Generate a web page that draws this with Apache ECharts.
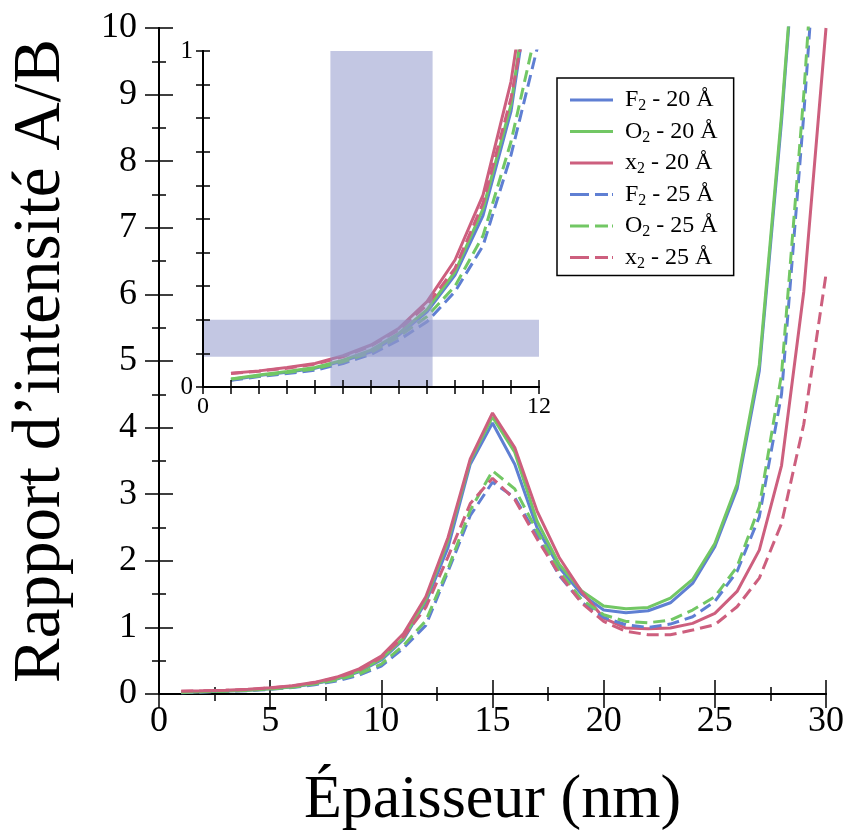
<!DOCTYPE html>
<html><head><meta charset="utf-8">
<script src="https://cdn.jsdelivr.net/npm/echarts@6/dist/echarts.min.js"></script>
<style>html,body{margin:0;padding:0;background:#fff}#c{width:849px;height:837px}</style>
</head><body><div id="c"></div>
<script>
const thickness = [1,2,3,4,5,6,7,8,9,10,11,12,13,14,15,16,17,18,19,20,21,22,23,24,25,26,27,28,29,30];
const F2_20 = [0.021,0.034,0.044,0.056,0.077,0.105,0.155,0.224,0.333,0.51,0.82,1.38,2.20,3.45,4.07,3.45,2.50,1.90,1.50,1.26,1.22,1.25,1.37,1.66,2.21,3.08,4.85,8.6,13,18];
const O2_20 = [0.024,0.036,0.046,0.058,0.080,0.110,0.160,0.230,0.343,0.53,0.84,1.42,2.30,3.50,4.16,3.63,2.60,1.95,1.55,1.32,1.28,1.30,1.44,1.72,2.26,3.15,4.94,8.7,13,18];
const x2_20 = [0.041,0.048,0.058,0.070,0.093,0.125,0.175,0.254,0.378,0.571,0.909,1.46,2.35,3.53,4.22,3.70,2.75,2.05,1.54,1.14,0.99,0.98,0.99,1.06,1.21,1.54,2.16,3.43,6.04,10.0];
const F2_25 = [0.020,0.031,0.040,0.050,0.070,0.097,0.140,0.194,0.284,0.42,0.69,1.03,1.84,2.68,3.18,2.95,2.38,1.78,1.38,1.15,1.04,1.00,1.05,1.16,1.39,1.84,2.66,4.5,8.7,13.5];
const O2_25 = [0.023,0.033,0.043,0.054,0.075,0.103,0.150,0.210,0.300,0.45,0.73,1.10,1.88,2.76,3.35,3.08,2.45,1.85,1.42,1.19,1.09,1.07,1.11,1.26,1.46,1.91,2.81,4.8,9.0,14];
const x2_25 = [0.040,0.047,0.056,0.068,0.090,0.122,0.170,0.244,0.353,0.547,0.86,1.30,2.06,2.86,3.24,2.92,2.33,1.80,1.37,1.09,0.94,0.89,0.89,0.96,1.04,1.31,1.74,2.56,4.05,6.3];
const seriesNames = ['F2 - 20 Å','O2 - 20 Å','x2 - 20 Å','F2 - 25 Å','O2 - 25 Å','x2 - 25 Å'];
const mainXTicks = [0,5,10,15,20,25,30];
const mainYTicks = [0,1,2,3,4,5,6,7,8,9,10];
const insetXLabels = [0,12];
const insetYLabels = [0,1];
const bandX = [4.55, 8.2];
const bandY = [0.09, 0.2];

const BLUE='#5f7fd3', GREEN='#72c764', RED='#cd5f7e';
const cols=[BLUE,GREEN,RED,BLUE,GREEN,RED];
const vals=[F2_20,O2_20,x2_20,F2_25,O2_25,x2_25];
const dashed=[false,false,false,true,true,true];
const FONT='Liberation Serif';
const SOLID_ICON='path://M0,0h43v3h-43z';
const DASH_ICON='path://M0,0h19v3h-19z M25,0h13v3h-13z M42,0h1v3h-1z';

function pairs(v){return thickness.map((x,i)=>[x,v[i]]);}
function legendFmt(n){const k=n.indexOf('2');return '{a|'+n.slice(0,k)+'}{s|2}{b|'+n.slice(k+1)+'}';}

const series=[];
vals.forEach((v,i)=>{
  series.push({name:seriesNames[i],type:'line',xAxisIndex:0,yAxisIndex:0,data:pairs(v),symbol:'none',clip:true,
    lineStyle:{color:cols[i],width:3,type:dashed[i]?[12,6]:'solid'},itemStyle:{color:cols[i]},z:3});
});
vals.forEach((v,i)=>{
  series.push({name:seriesNames[i],type:'line',xAxisIndex:2,yAxisIndex:2,data:pairs(v),symbol:'none',clip:true,
    lineStyle:{color:cols[i],width:3,type:dashed[i]?[12,6]:'solid'},itemStyle:{color:cols[i]},z:7});
});
series.push({type:'line',xAxisIndex:2,yAxisIndex:2,data:[[0,0]],symbol:'none',lineStyle:{width:0},z:8,silent:true,
  markArea:{silent:true,z:10,itemStyle:{color:'rgba(142,149,202,0.53)'},data:[
    [{xAxis:bandX[0],yAxis:0},{xAxis:bandX[1],yAxis:1}],
    [{xAxis:0,yAxis:bandY[0]},{xAxis:12,yAxis:bandY[1]}]
  ]}});

const axLine={show:true,lineStyle:{color:'#000',width:2}};
function mkAx(grid,pos,min,max,interval,labels,fs,minor,tickLen,margin){
  return {type:'value',gridIndex:grid,position:pos,min:min,max:max,interval:interval,
    axisLine:axLine,splitLine:{show:false},
    axisTick:{show:true,inside:true,length:tickLen,lineStyle:{color:'#000',width:1.5}},
    minorTick:{show:minor,splitNumber:2,length:7,lineStyle:{color:'#000',width:1.5}},
    axisLabel:{show:labels!==null,margin:margin,fontFamily:FONT,fontSize:fs,color:'#000',
      formatter:v=>labels&&labels.indexOf(v)>=0?String(v):''}};
}
const xMain=mkAx(0,'bottom',0,30,5,mainXTicks,36,true,14,10);
Object.assign(xMain,{name:'Épaisseur (nm)',nameLocation:'middle',nameGap:76,nameTextStyle:{fontFamily:FONT,fontSize:62,color:'#000'}});
const yMain=mkAx(0,'left',0,10,1,mainYTicks,36,true,14,22);
Object.assign(yMain,{name:'Rapport d’intensité A/B',nameLocation:'middle',nameGap:84,nameTextStyle:{fontFamily:FONT,fontSize:67,color:'#000'}});

const option={
  animation:false,backgroundColor:'#fff',
  grid:[
    {left:156,top:28,width:670,height:670,show:false},
    {left:203,top:51,width:336,height:336,show:true,backgroundColor:'#fff',borderWidth:0,z:5}
  ],
  xAxis:[
    xMain,
    mkAx(0,'top',0,30,5,null,36,true,14,8),
    Object.assign(mkAx(1,'bottom',0,12,1,insetXLabels,24,false,7,8),{z:11}),
    Object.assign(mkAx(1,'top',0,12,1,null,24,false,7,8),{z:11})
  ],
  yAxis:[
    yMain,
    mkAx(0,'right',0,10,1,null,36,true,14,8),
    Object.assign(mkAx(1,'left',0,1,0.1,insetYLabels,25,false,7,10),{z:11}),
    Object.assign(mkAx(1,'right',0,1,0.1,null,24,false,7,8),{z:11})
  ],
  legend:{orient:'vertical',left:557,top:78,padding:[10,16,4,13],itemGap:5.5,itemWidth:43,itemHeight:3,
    backgroundColor:'#fff',borderColor:'#000',borderWidth:1.5,
    data:seriesNames.map((n,i)=>({name:n,icon:dashed[i]?DASH_ICON:SOLID_ICON})),
    formatter:legendFmt,
    textStyle:{fontFamily:FONT,fontSize:24,color:'#000',
      rich:{a:{fontFamily:FONT,fontSize:24,color:'#000',padding:[0,0,0,7]},
            b:{fontFamily:FONT,fontSize:24,color:'#000'},
            s:{fontFamily:FONT,fontSize:16,color:'#000',padding:[12,0,0,0]}}}},
  series:series
};
const ch=echarts.init(document.getElementById('c'));
ch.setOption(option);
</script></body></html>
